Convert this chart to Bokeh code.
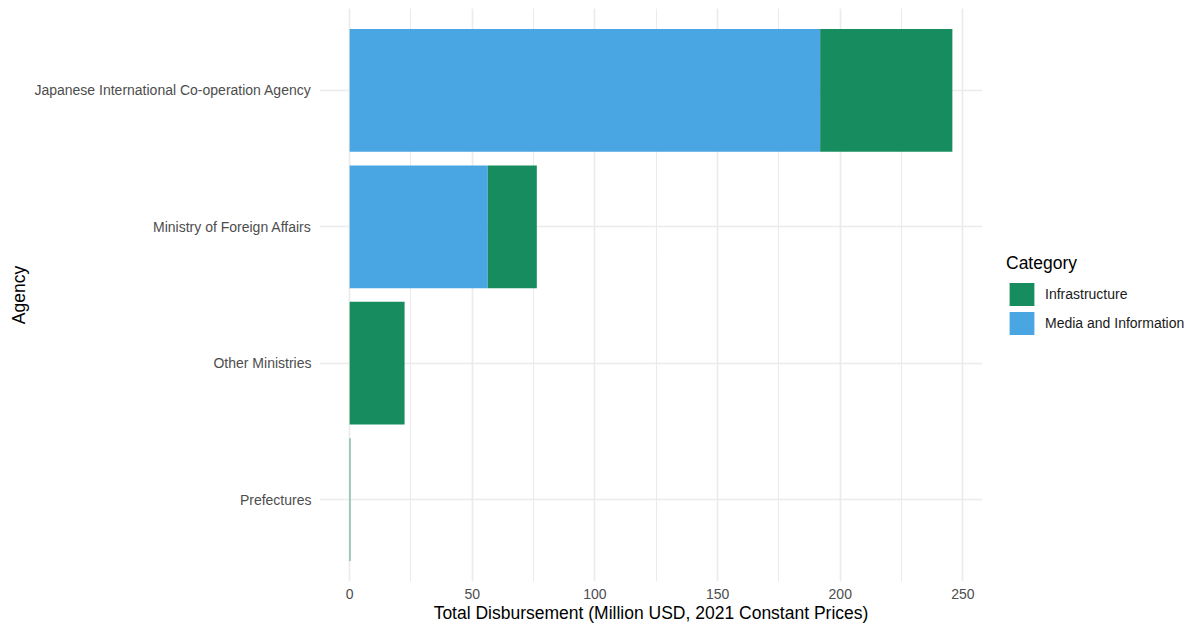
from bokeh.plotting import figure
from bokeh.models import (ColumnDataSource, FactorRange, Range1d, SingleIntervalTicker,
                          Legend, LegendItem)
from bokeh.embed import file_html
from bokeh.resources import INLINE

# ---- data ----
agencies = ["Japanese International Co-operation Agency", "Ministry of Foreign Affairs",
            "Other Ministries", "Prefectures"]
media = [191.8, 56.3, 0.0, 0.0]
infra = [53.9, 20.0, 22.4, 0.3]
categories = ["Infrastructure", "Media and Information"]
colors = {"Infrastructure": "#178D5F", "Media and Information": "#4AA5E3"}

FONT = "Liberation Sans"

source = ColumnDataSource(dict(agency=agencies, media=media, infra=infra))

totals = [m + i for m, i in zip(media, infra)]
xmax = max(totals)
pad = xmax * 0.05

p = figure(frame_width=663, frame_height=573, output_backend="svg", toolbar_location=None,
           y_range=FactorRange(factors=list(reversed(agencies)), range_padding=0.1,
                               range_padding_units="absolute"),
           x_range=Range1d(-pad, xmax + pad),
           min_border_left=319, min_border_right=0, min_border_top=8, min_border_bottom=0)

rs = p.hbar_stack(["media", "infra"], y="agency", height=0.9,
                  color=[colors["Media and Information"], colors["Infrastructure"]],
                  line_color=None, source=source)

p.outline_line_color = None
p.background_fill_color = "white"
p.border_fill_color = "white"

p.xaxis.ticker = SingleIntervalTicker(interval=50, num_minor_ticks=2)
for ax in (p.xaxis[0], p.yaxis[0]):
    ax.axis_line_color = None
    ax.major_tick_line_color = None
    ax.minor_tick_line_color = None
    ax.major_tick_out = 0
    ax.major_tick_in = 0
    ax.minor_tick_out = 0
    ax.minor_tick_in = 0
    ax.major_label_text_font = FONT
    ax.major_label_text_font_size = "14px"
    ax.major_label_text_color = "#4D4D4D"
    ax.axis_label_text_font = FONT
    ax.axis_label_text_font_size = "17.5px"
    ax.axis_label_text_font_style = "normal"
    ax.axis_label_text_color = "#000000"

p.xaxis.axis_label = "Total Disbursement (Million USD, 2021 Constant Prices)"
p.yaxis.axis_label = "Agency"
p.xaxis.major_label_standoff = 7
p.xaxis.axis_label_standoff = 1
p.yaxis.major_label_standoff = 8
p.yaxis.axis_label_standoff = 2

p.xgrid.grid_line_color = "#EBEBEB"
p.xgrid.grid_line_width = 1.6
p.xgrid.minor_grid_line_color = "#EBEBEB"
p.xgrid.minor_grid_line_width = 1.1
p.ygrid.grid_line_color = "#EBEBEB"
p.ygrid.grid_line_width = 1.6

legend = Legend(items=[LegendItem(label=categories[0], renderers=[rs[1]]),
                       LegendItem(label=categories[1], renderers=[rs[0]])],
                title="Category", location="center_left")
legend.title_text_font = FONT
legend.title_text_font_size = "17.5px"
legend.title_text_font_style = "normal"
legend.title_text_color = "#000000"
legend.title_standoff = 6
legend.label_text_font = FONT
legend.label_text_font_size = "14px"
legend.label_text_color = "#1A1A1A"
legend.glyph_width = 31
legend.glyph_height = 29
legend.label_height = 29
legend.spacing = 0
legend.label_standoff = 8
legend.padding = 0
legend.margin = 24
legend.border_line_color = None
legend.background_fill_alpha = 0
p.add_layout(legend, "right")

open("out.html", "w").write(file_html(p, INLINE))
